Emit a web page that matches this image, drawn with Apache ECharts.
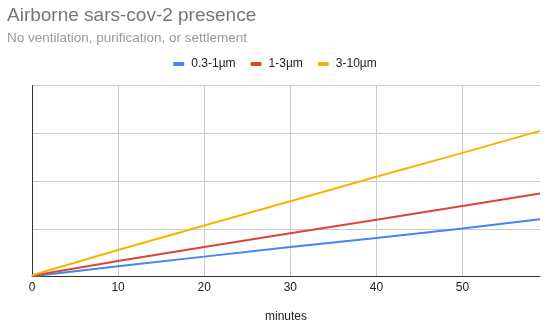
<!DOCTYPE html>
<html>
<head>
<meta charset="utf-8">
<script src="https://cdn.jsdelivr.net/npm/echarts@6/dist/echarts.min.js"></script>
<style>
html,body{margin:0;padding:0;background:#fff;}
#chart{width:550px;height:334px;}
</style>
</head>
<body>
<div id="chart"></div>
<script>
const minutes = [0, 10, 20, 30, 40, 50, 59];
const seriesNames = ['0.3-1µm', '1-3µm', '3-10µm'];
const small = [0.01, 0.22, 0.42, 0.62, 0.81, 1.01, 1.20];
const medium = [0.02, 0.33, 0.62, 0.91, 1.19, 1.48, 1.74];
const large = [0.03, 0.56, 1.07, 1.58, 2.09, 2.59, 3.05];
const xTicks = [0, 10, 20, 30, 40, 50];

const colors = ['#4285F4', '#DB4437', '#F4B400'];
const font = '"Liberation Sans", Arial, sans-serif';
const pair = arr => minutes.map((m, i) => [m, arr[i]]);

const chart = echarts.init(document.getElementById('chart'));
chart.setOption({
  animation: false,
  color: colors,
  textStyle: {fontFamily: font},
  title: {
    text: 'Airborne sars-cov-2 presence',
    subtext: 'No ventilation, purification, or settlement',
    left: 2, top: 1, itemGap: 6,
    textStyle: {fontFamily: font, fontSize: 19, fontWeight: 'normal', color: '#757575'},
    subtextStyle: {fontFamily: font, fontSize: 13.5, color: '#999999'}
  },
  legend: {
    top: 53, left: 'center',
    itemWidth: 11, itemHeight: 4, itemGap: 15,
    icon: 'roundRect',
    textStyle: {fontFamily: font, fontSize: 12, color: '#222222', padding: [0, 0, 0, 2]},
    data: seriesNames
  },
  grid: {left: 32, right: 10, top: 85.5, bottom: 57.3, containLabel: false},
  xAxis: {
    type: 'value', min: 0, max: 59, interval: 10,
    name: 'minutes', nameLocation: 'middle', nameGap: 34,
    nameTextStyle: {fontFamily: font, fontSize: 12, color: '#222222'},
    axisLine: {show: true, lineStyle: {color: '#333333', width: 1}},
    axisTick: {show: false},
    axisLabel: {fontFamily: font, fontSize: 12, color: '#222222', margin: 5, showMaxLabel: false,
      formatter: v => xTicks.includes(v) ? String(v) : ''},
    splitLine: {show: true, showMinLine: false, showMaxLine: false, lineStyle: {color: '#cccccc', width: 1}}
  },
  yAxis: {
    type: 'value', min: 0, max: 4, interval: 1,
    axisLine: {show: true, lineStyle: {color: '#333333', width: 1}},
    axisTick: {show: false},
    axisLabel: {show: false},
    splitLine: {show: true, lineStyle: {color: '#cccccc', width: 1}}
  },
  series: [
    {name: seriesNames[0], type: 'line', data: pair(small), showSymbol: false, lineStyle: {width: 2}, z: 3},
    {name: seriesNames[1], type: 'line', data: pair(medium), showSymbol: false, lineStyle: {width: 2}, z: 4},
    {name: seriesNames[2], type: 'line', data: pair(large), showSymbol: false, lineStyle: {width: 2}, z: 5}
  ]
});
</script>
</body>
</html>
